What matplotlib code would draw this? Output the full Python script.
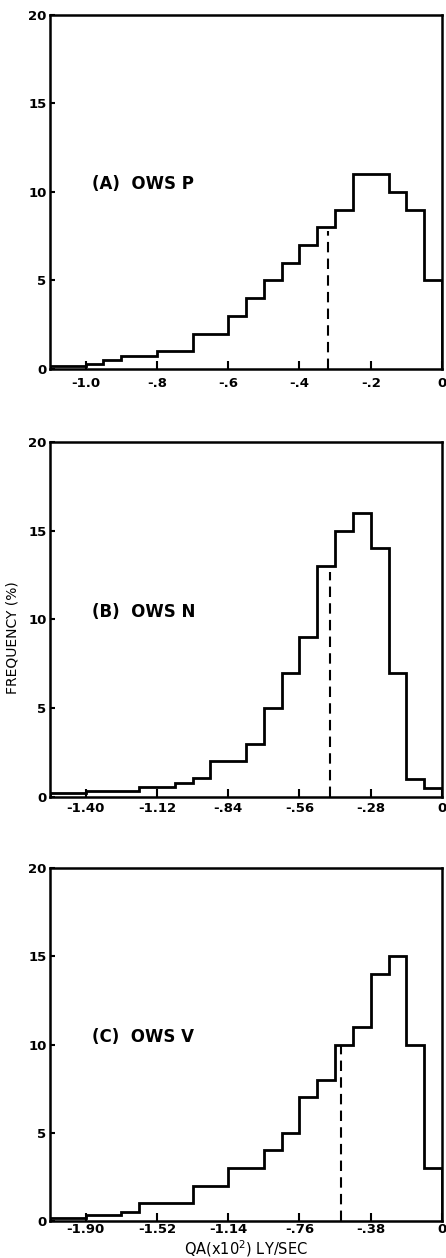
import numpy as np
import matplotlib.pyplot as plt

plt.rcParams['font.family'] = ['DejaVu Sans']

# frequency (%) per bin, 22 equal bins from left edge to 0
freq_a = [0.15, 0.15, 0.3, 0.5, 0.75, 0.75, 1.0, 1.0, 2, 2, 3, 4, 5, 6, 7, 8, 9, 11, 11, 10, 9, 5]
freq_b = [0.25, 0.25, 0.35, 0.35, 0.35, 0.55, 0.55, 0.8, 1.05, 2, 2, 3, 5, 7, 9, 13, 15, 16, 14, 7, 1, 0.5]
freq_c = [0.15, 0.15, 0.35, 0.35, 0.5, 1, 1, 1, 2, 2, 3, 3, 4, 5, 7, 8, 10, 11, 14, 15, 10, 3]

# tick spacing of each panel (4 bins per tick)
steps = [0.2, 0.28, 0.38]
tick_labels = [
    ['-1.0', '-.8', '-.6', '-.4', '-.2', '0'],
    ['-1.40', '-1.12', '-.84', '-.56', '-.28', '0'],
    ['-1.90', '-1.52', '-1.14', '-.76', '-.38', '0'],
]
# dashed line: x position and height
mean_x = [-0.32, -0.44, -0.54]
mean_top = [7.8, 12.7, 9.9]
titles = ['(A)  OWS P', '(B)  OWS N', '(C)  OWS V']
freqs = [freq_a, freq_b, freq_c]

fig = plt.figure(figsize=(4.46, 12.58), dpi=100)
boxes = [(0.1121, 0.7067, 0.8789, 0.2814),
         (0.1121, 0.3665, 0.8789, 0.2822),
         (0.1121, 0.0294, 0.8789, 0.2806)]
xpads = [6, 3.5, 1.5]

for i in range(3):
    ax = fig.add_axes(boxes[i])
    step = steps[i]
    edges = -5.5 * step + np.arange(23) * step / 4
    ax.stairs(freqs[i], edges, color='black', linewidth=2.0, baseline=0)
    ax.vlines(mean_x[i], 0, mean_top[i], color='black', linewidth=1.5,
              linestyles=(0, (5, 3)))
    ax.set_xlim(-5.5 * step, 0)
    ax.set_ylim(0, 20)
    ax.set_xticks([-5 * step, -4 * step, -3 * step, -2 * step, -step, 0])
    ax.set_xticklabels(tick_labels[i], fontsize=9.5, fontweight='bold')
    ax.set_yticks([0, 5, 10, 15, 20])
    ax.set_yticklabels(['0', '5', '10', '15', '20'], fontsize=9.5, fontweight='bold')
    ax.tick_params(axis='x', direction='in', length=5.5, width=1.5, pad=xpads[i])
    ax.tick_params(axis='y', direction='in', length=3.5, width=1.5, pad=2.5)
    for sp in ax.spines.values():
        sp.set_linewidth(1.8)
    ax.text(0.107, 0.522, titles[i], transform=ax.transAxes, fontsize=12,
            fontweight='bold', va='center', ha='left')
    if i == 1:
        ax.set_ylabel('FREQUENCY (%)', fontsize=10)
        ax.yaxis.set_label_coords(-0.077, 0.45)
    if i == 2:
        ax.set_xlabel('QA(x10$^{2}$) LY/SEC', fontsize=10.5)
        ax.xaxis.set_label_coords(0.5, -0.049)

fig.savefig('out.png', dpi=100)
